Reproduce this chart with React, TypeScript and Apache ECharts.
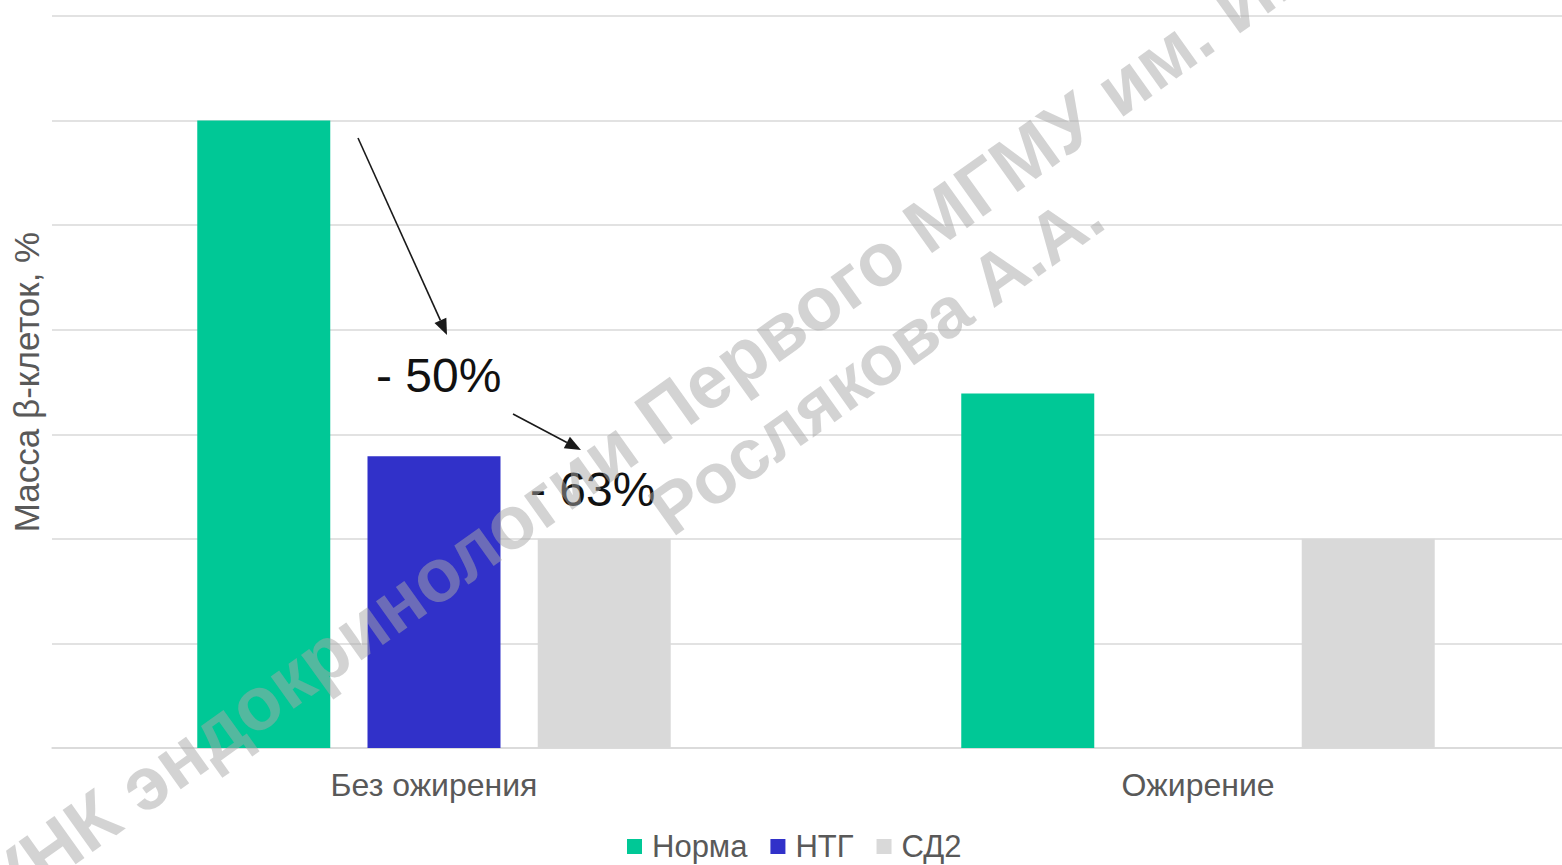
import React, { useEffect, useRef } from "react";
import * as echarts from "echarts";

const categories = ["Без ожирения", "Ожирение"];
const seriesNames = ["Норма", "НТГ", "СД2"];
const normaValues = [6.0, 3.39];
const ntgValues: (number | null)[] = [2.79, null];
const sd2Values = [2.0, 2.0];
const colors = ["#00C896", "#3131C9", "#D9D9D9"];
const annotations = ["- 50%", "- 63%"];
const axisTitle = "Масса β-клеток, %";
const watermarkA = "УНК эндокринологии ";
const watermarkB = "Первого МГМУ им. И.М. Сеченова";
const watermarkC = "Рослякова А.А.";

const FONT = 'Arial, "Liberation Sans", sans-serif';

function arrow(x1: number, y1: number, x2: number, y2: number) {
  const dx = x2 - x1;
  const dy = y2 - y1;
  const len = Math.sqrt(dx * dx + dy * dy);
  const ux = dx / len;
  const uy = dy / len;
  const nx = -uy;
  const ny = ux;
  const head = 16;
  const half = 6.5;
  const bx = x2 - ux * head;
  const by = y2 - uy * head;
  return [
    {
      type: "line",
      shape: { x1, y1, x2: bx, y2: by },
      style: { stroke: "#1a1a1a", lineWidth: 1.6 },
      z: 20,
    },
    {
      type: "polygon",
      shape: {
        points: [
          [x2, y2],
          [bx + nx * half, by + ny * half],
          [bx - nx * half, by - ny * half],
        ],
      },
      style: { fill: "#1a1a1a" },
      z: 20,
    },
  ];
}

export default function App() {
  const ref = useRef<HTMLDivElement>(null);
  useEffect(() => {
    document.body.style.margin = "0";
    document.body.style.overflow = "hidden";
    if (!ref.current) return;
    const chart = echarts.init(ref.current, undefined, { renderer: "svg" });
    const rot = (35.5 * Math.PI) / 180;
    const wmFill = "rgba(168,168,168,0.5)";
    chart.setOption({
      animation: false,
      backgroundColor: "#ffffff",
      grid: { left: 52, right: 0, top: 16, bottom: 117, containLabel: false },
      xAxis: {
        type: "category",
        data: categories,
        axisLine: { show: true, lineStyle: { color: "#d9d9d9", width: 1.5 } },
        axisTick: { show: false },
        axisLabel: { color: "#595959", fontSize: 32, fontFamily: FONT, margin: 21 },
      },
      yAxis: {
        type: "value",
        min: 0,
        max: 7,
        interval: 1,
        name: axisTitle,
        nameLocation: "middle",
        nameRotate: 90,
        nameGap: 8,
        nameTextStyle: { color: "#595959", fontSize: 35, fontFamily: FONT },
        axisLabel: { show: false },
        axisLine: { show: false },
        axisTick: { show: false },
        splitLine: { lineStyle: { color: "#d9d9d9", width: 1.5 } },
      },
      legend: {
        data: seriesNames,
        top: 826,
        left: 622,
        icon: "rect",
        itemWidth: 15,
        itemHeight: 15,
        itemGap: 23,
        textStyle: { color: "#595959", fontSize: 31, fontFamily: FONT, padding: [0, 0, 0, 5] },
      },
      series: [
        { name: seriesNames[0], type: "bar", data: normaValues, barWidth: 133, barGap: "28%", itemStyle: { color: colors[0] } },
        { name: seriesNames[1], type: "bar", data: ntgValues, barWidth: 133, barGap: "28%", itemStyle: { color: colors[1] } },
        { name: seriesNames[2], type: "bar", data: sd2Values, barWidth: 133, barGap: "28%", itemStyle: { color: colors[2] } },
      ],
      graphic: [
        ...arrow(358, 138, 447, 335),
        ...arrow(513, 414, 581, 450),
        {
          type: "text",
          x: 376,
          y: 375,
          style: { text: annotations[0], fill: "#111", font: `48px ${FONT}`, verticalAlign: "middle" },
          z: 20,
        },
        {
          type: "text",
          x: 530,
          y: 489,
          style: { text: annotations[1], fill: "#111", font: `48px ${FONT}`, verticalAlign: "middle" },
          z: 20,
        },
        {
          type: "text",
          x: 645,
          y: 426,
          rotation: rot,
          style: { fill: wmFill, font: `bold 75px ${FONT}`, verticalAlign: "middle", text: watermarkA, align: "right" },
          z: 30,
        },
        {
          type: "text",
          x: 645,
          y: 426,
          rotation: rot,
          style: { fill: wmFill, font: `bold 75px ${FONT}`, verticalAlign: "middle", text: watermarkB, align: "left" },
          z: 30,
        },
        {
          type: "text",
          x: 658,
          y: 518,
          rotation: rot,
          style: { fill: wmFill, font: `bold 71px ${FONT}`, verticalAlign: "middle", text: watermarkC, align: "left" },
          z: 30,
        },
      ],
    });
    return () => chart.dispose();
  }, []);
  return <div ref={ref} style={{ width: 1580, height: 865 }} />;
}
